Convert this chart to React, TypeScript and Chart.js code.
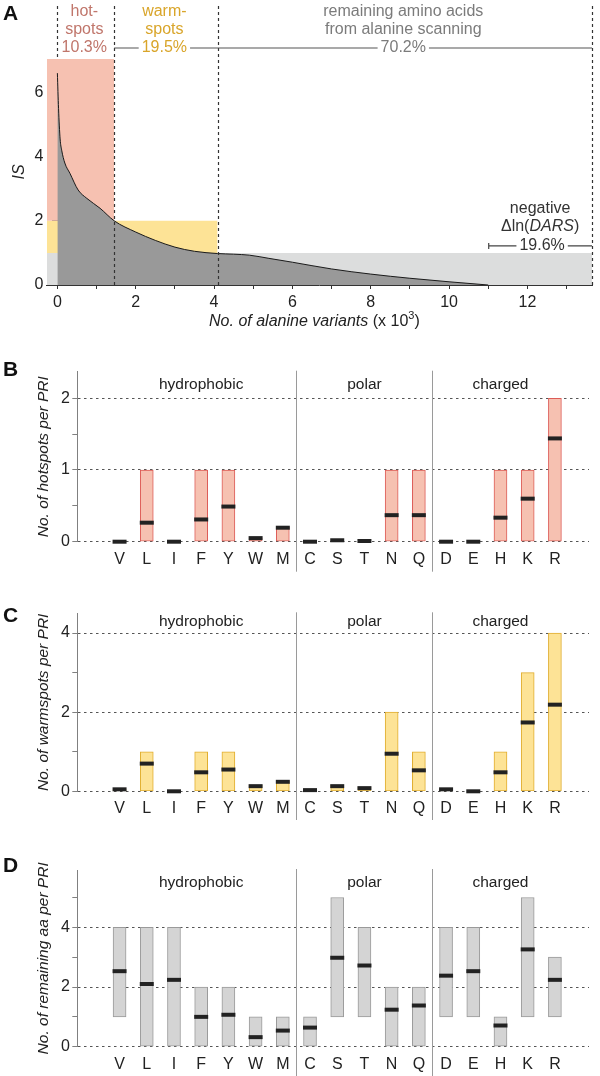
import React, { useEffect, useRef } from 'react';
import { Chart, registerables } from 'chart.js';

Chart.register(...registerables);

const FONT = "'Liberation Sans', Arial, Helvetica, sans-serif";
Chart.defaults.font.family = FONT;
Chart.defaults.color = '#222';

// ---------- Panel A data ----------
const curveX = [0, 0.03, 0.07, 0.11, 0.19, 0.32, 0.53, 0.75, 1.09, 1.45, 2.0, 2.5, 3.0, 3.5, 4.09, 4.5, 4.9, 5.4, 6.0, 7.0, 8.0, 9.0, 10.0, 11.0];
const curveIS = [6.6, 5.5, 4.55, 4.2, 3.8, 3.48, 2.96, 2.7, 2.39, 2.0, 1.65, 1.39, 1.18, 1.05, 0.98, 0.96, 0.93, 0.83, 0.71, 0.5, 0.34, 0.21, 0.1, 0.0];
const xMinA = -0.27;
const xMaxA = 13.65;
const yMaxA = 7.04;
const thresholdsX = [0, 1.45, 4.09, 13.65];
const bandEnds = [1.45, 4.09, 13.65];
const bandLows = [2, 1, 0];
const bandHighs = [7.04, 2, 1];
const bandColors = ['#f6c1b1', '#fde396', '#dcdddd'];
const classLabels = [['hot-', 'spots'], ['warm-', 'spots'], ['remaining amino acids', 'from alanine scanning']];
const classPercents = ['10.3%', '19.5%', '70.2%'];
const classColors = ['#c0766b', '#d9a52a', '#7b7b7b'];
const negStart = 11.0;
const negPercent = '19.6%';
const xTicksA = [0, 1, 2, 3, 4, 5, 6, 7, 8, 9, 10, 11, 12, 13];
const xLabelsA = [0, 2, 4, 6, 8, 10, 12];
const yTicksA = [0, 1, 2, 3, 4, 5, 6];
const yLabelsA = [0, 2, 4, 6];

// ---------- Panels B-D data ----------
const categories = ['V', 'L', 'I', 'F', 'Y', 'W', 'M', 'C', 'S', 'T', 'N', 'Q', 'D', 'E', 'H', 'K', 'R'];
const groupNames = ['hydrophobic', 'polar', 'charged'];
const groupCenters = [4, 10, 15];
const groupSeparators = [7.5, 12.5];

const hotLow = [0, 0, 0, 0, 0, 0, 0, 0, 0, 0, 0, 0, 0, 0, 0, 0, 0];
const hotHigh = [0, 1, 0, 1, 1, 0.05, 0.2, 0, 0, 0, 1, 1, 0, 0, 1, 1, 2];
const hotMean = [0, 0.265, 0, 0.31, 0.49, 0.05, 0.195, 0, 0.02, 0.01, 0.37, 0.37, 0, 0, 0.335, 0.6, 1.44];
const hotTicks = [0, 0.5, 1, 1.5, 2];
const hotLabels = [0, 1, 2];

const warmLow = [0, 0, 0, 0, 0, 0, 0, 0, 0, 0, 0, 0, 0, 0, 0, 0, 0];
const warmHigh = [0.05, 1, 0, 1, 1, 0.15, 0.25, 0.03, 0.15, 0.1, 2, 1, 0.05, 0, 1, 3, 4];
const warmMean = [0.05, 0.7, 0, 0.48, 0.55, 0.13, 0.24, 0.03, 0.13, 0.08, 0.95, 0.53, 0.05, 0, 0.48, 1.74, 2.19];
const warmTicks = [0, 1, 2, 3, 4];
const warmLabels = [0, 2, 4];

const remLow = [1, 0, 0, 0, 0, 0, 0, 0, 1, 1, 0, 0, 1, 1, 0, 1, 1];
const remHigh = [4, 4, 4, 2, 2, 1, 1, 1, 5, 4, 2, 2, 4, 4, 1, 5, 3];
const remMean = [2.53, 2.1, 2.24, 1.0, 1.07, 0.32, 0.54, 0.64, 2.98, 2.72, 1.24, 1.38, 2.38, 2.53, 0.71, 3.26, 2.24];
const remTicks = [0, 1, 2, 3, 4, 5];
const remLabels = [0, 2, 4];

type Run = { text: string; font: string; dy?: number };

function drawRuns(ctx: CanvasRenderingContext2D, runs: Run[], cx: number, y: number, color: string) {
  let total = 0;
  const widths = runs.map((r) => {
    ctx.font = r.font;
    const w = ctx.measureText(r.text).width;
    total += w;
    return w;
  });
  let x = cx - total / 2;
  ctx.fillStyle = color;
  ctx.textAlign = 'left';
  ctx.textBaseline = 'middle';
  runs.forEach((r, i) => {
    ctx.font = r.font;
    ctx.fillText(r.text, x, y + (r.dy || 0));
    x += widths[i];
  });
}

const panelAPlugin = {
  id: 'panelADecor',
  afterDraw(chart: any) {
    const { ctx, chartArea: ca, scales } = chart;
    const x = scales.x;
    const y = scales.y;
    const px = (v: number) => x.getPixelForValue(v);
    const py = (v: number) => y.getPixelForValue(v);
    ctx.save();
    // dashed class boundaries
    ctx.setLineDash([3, 3]);
    ctx.strokeStyle = '#333';
    ctx.lineWidth = 1.2;
    thresholdsX.forEach((v, i) => {
      const X = Math.round(px(v)) + 0.5;
      ctx.beginPath();
      ctx.moveTo(X, 6);
      ctx.lineTo(X, i === 0 ? ca.top : ca.bottom);
      ctx.stroke();
    });
    ctx.setLineDash([]);
    // horizontal bracket line
    const lineY = 48;
    ctx.strokeStyle = '#555';
    ctx.lineWidth = 1.2;
    ctx.beginPath();
    ctx.moveTo(px(thresholdsX[1]), lineY);
    ctx.lineTo(px(thresholdsX[3]), lineY);
    ctx.stroke();
    // class labels
    ctx.font = `16px ${FONT}`;
    ctx.textAlign = 'center';
    ctx.textBaseline = 'middle';
    for (let i = 0; i < 3; i++) {
      const cx = (px(thresholdsX[i]) + px(thresholdsX[i + 1])) / 2 - 1.5;
      ctx.fillStyle = classColors[i];
      ctx.fillText(classLabels[i][0], cx, 12);
      ctx.fillText(classLabels[i][1], cx, 29.5);
      const w = ctx.measureText(classPercents[i]).width;
      if (i > 0) {
        ctx.fillStyle = '#fff';
        ctx.fillRect(cx - w / 2 - 3, lineY - 7, w + 6, 14);
      }
      ctx.fillStyle = classColors[i];
      ctx.fillText(classPercents[i], cx, lineY);
    }
    // negative ΔlnDARS annotation
    const base = py(1);
    const nx0 = px(negStart);
    const nx1 = px(thresholdsX[3]);
    const ncx = (nx0 + nx1) / 2 + 2;
    const nLineY = base - 7;
    ctx.strokeStyle = '#444';
    ctx.lineWidth = 1.2;
    ctx.beginPath();
    ctx.moveTo(nx0, nLineY);
    ctx.lineTo(nx1, nLineY);
    ctx.moveTo(nx0 + 0.5, nLineY - 3);
    ctx.lineTo(nx0 + 0.5, nLineY + 3);
    ctx.stroke();
    ctx.font = `16px ${FONT}`;
    const nw = ctx.measureText(negPercent).width;
    ctx.fillStyle = '#fff';
    ctx.fillRect(ncx - nw / 2 - 3, nLineY - 6, nw + 6, 12);
    ctx.fillStyle = '#333';
    ctx.textAlign = 'center';
    ctx.fillText(negPercent, ncx, nLineY);
    ctx.fillText('negative', ncx - 2, base - 44);
    drawRuns(ctx, [
      { text: 'Δln(', font: `16px ${FONT}` },
      { text: 'DARS', font: `italic 16px ${FONT}` },
      { text: ')', font: `16px ${FONT}` },
    ], ncx - 2, base - 26.5, '#333');
    // x axis title
    drawRuns(ctx, [
      { text: 'No. of alanine variants', font: `italic 16px ${FONT}` },
      { text: ' (x 10', font: `16px ${FONT}` },
      { text: '3', font: `11px ${FONT}`, dy: -6 },
      { text: ')', font: `16px ${FONT}` },
    ], (ca.left + ca.right) / 2 - 5, ca.bottom + 37, '#222');
    // panel letter
    ctx.fillStyle = '#111';
    ctx.font = `bold 21px ${FONT}`;
    ctx.textAlign = 'left';
    ctx.textBaseline = 'middle';
    ctx.fillText('A', 3, 14);
    ctx.restore();
  },
};

function PanelA() {
  const ref = useRef<HTMLCanvasElement>(null);
  useEffect(() => {
    const canvas = ref.current;
    if (!canvas) return;
    const bandSets = bandEnds.map((end, i) => ({
      data: [{ x: xMinA, y: bandHighs[i] }, { x: end, y: bandHighs[i] }],
      fill: { value: bandLows[i] },
      backgroundColor: bandColors[i],
      borderWidth: 0,
      pointRadius: 0,
    }));
    const chart = new Chart(canvas, {
      type: 'line',
      data: {
        datasets: [
          {
            data: curveX.map((v, i) => ({ x: v, y: curveIS[i] })),
            fill: { value: 0 },
            backgroundColor: '#999999',
            borderColor: '#1a1a1a',
            borderWidth: 1,
            pointRadius: 0,
            cubicInterpolationMode: 'monotone',
          },
          ...bandSets,
        ],
      },
      options: {
        animation: false,
        responsive: false,
        events: [],
        layout: { padding: { top: 59, left: 0, right: 8, bottom: 0 } },
        plugins: { legend: { display: false }, tooltip: { enabled: false } },
        scales: {
          x: {
            type: 'linear',
            position: 'bottom',
            min: xMinA,
            max: xMaxA,
            afterBuildTicks: (s: any) => { s.ticks = xTicksA.map((v) => ({ value: v })); },
            afterFit: (s: any) => { s.height = 50; },
            ticks: {
              autoSkip: false,
              maxRotation: 0,
              padding: 4,
              color: '#222',
              font: { size: 16 },
              callback: (v: any) => (xLabelsA.includes(Number(v)) ? String(v) : ''),
            },
            grid: { drawOnChartArea: false, drawTicks: true, tickLength: 4, tickColor: '#333' },
            border: { display: true, color: '#333', width: 1 },
          },
          y: {
            type: 'linear',
            position: { x: 0 },
            min: 0,
            max: yMaxA,
            afterBuildTicks: (s: any) => { s.ticks = yTicksA.map((v) => ({ value: v })); },
            ticks: { display: false },
            grid: { drawOnChartArea: false, drawTicks: true, tickLength: 5, tickColor: '#333' },
            border: { display: true, color: '#333', width: 1 },
          },
          y2: {
            type: 'linear',
            position: 'left',
            min: 0,
            max: yMaxA,
            afterBuildTicks: (s: any) => { s.ticks = yLabelsA.map((v) => ({ value: v })); },
            afterFit: (s: any) => { s.width = 46.8; },
            ticks: { padding: 3.5, color: '#222', font: { size: 16 } },
            grid: { display: false, drawTicks: false },
            border: { display: false },
            title: {
              display: true,
              text: 'IS',
              color: '#222',
              font: { size: 16, style: 'italic' },
              padding: { top: 10, bottom: 0 },
            },
          },
        },
      },
      plugins: [panelAPlugin],
    } as any);
    return () => chart.destroy();
  }, []);
  return (
    <div style={{ position: 'absolute', left: 0, top: 0, width: 600, height: 335 }}>
      <canvas ref={ref} width={600} height={335} style={{ display: 'block' }} />
    </div>
  );
}

function makeBarPlugin(letter: string, letterY: number, groupY: number) {
  return {
    id: 'barPanelDecor',
    afterDraw(chart: any) {
      const { ctx, chartArea, scales } = chart;
      const x = scales.x;
      ctx.save();
      ctx.strokeStyle = '#9a9a9a';
      ctx.lineWidth = 1;
      groupSeparators.forEach((v) => {
        const X = Math.round(x.getPixelForValue(v)) + 0.5;
        ctx.beginPath();
        ctx.moveTo(X, chartArea.top - 1);
        ctx.lineTo(X, chartArea.bottom + 30);
        ctx.stroke();
      });
      ctx.fillStyle = '#222';
      ctx.font = `15.5px ${FONT}`;
      ctx.textAlign = 'center';
      ctx.textBaseline = 'middle';
      groupNames.forEach((g, i) => ctx.fillText(g, x.getPixelForValue(groupCenters[i]), groupY));
      ctx.fillStyle = '#111';
      ctx.font = `bold 21px ${FONT}`;
      ctx.textAlign = 'left';
      ctx.fillText(letter, 3, letterY);
      ctx.restore();
    },
  };
}

type BarPanelProps = {
  top: number;
  height: number;
  chartTop: number;
  chartBottom: number;
  yMax: number;
  ticks: number[];
  labels: number[];
  low: number[];
  high: number[];
  mean: number[];
  fill: string;
  stroke: string;
  title: string;
  letter: string;
  letterY: number;
  groupY: number;
};

function BarPanel(p: BarPanelProps) {
  const ref = useRef<HTMLCanvasElement>(null);
  useEffect(() => {
    const canvas = ref.current;
    if (!canvas) return;
    const markerData = categories.map((_, i) => ({ x: i + 1, y: p.mean[i] }));
    const barData = categories.map((_, i) => ({
      x: i + 1,
      y: p.high[i] > p.low[i] ? [p.low[i], p.high[i]] : null,
    }));
    const chart = new Chart(canvas, {
      type: 'bar',
      data: {
        datasets: [
          {
            type: 'scatter',
            data: markerData,
            pointStyle: 'line',
            pointRadius: 7,
            pointHoverRadius: 7,
            pointBorderColor: '#222',
            pointBorderWidth: 4,
            borderColor: '#222',
            borderWidth: 4,
            showLine: false,
            clip: false,
          },
          {
            type: 'bar',
            data: barData,
            backgroundColor: p.fill,
            borderColor: p.stroke,
            borderWidth: 1,
            borderSkipped: false,
            barThickness: 13,
          },
        ],
      },
      options: {
        animation: false,
        responsive: false,
        events: [],
        layout: { padding: { top: p.chartTop, left: 0, right: 0, bottom: 0 } },
        plugins: { legend: { display: false }, tooltip: { enabled: false } },
        scales: {
          x: {
            type: 'linear',
            position: 'bottom',
            min: 0,
            max: 17.7,
            afterBuildTicks: (s: any) => { s.ticks = categories.map((_, i) => ({ value: i + 1 })); },
            afterFit: (s: any) => { s.height = p.height - p.chartBottom; },
            ticks: {
              autoSkip: false,
              maxRotation: 0,
              padding: 8,
              color: '#222',
              font: { size: 16 },
              callback: (v: any) => categories[Number(v) - 1] ?? '',
            },
            grid: { display: false, drawTicks: false },
            border: { display: false },
          },
          y: {
            type: 'linear',
            position: 'left',
            min: 0,
            max: p.yMax,
            afterBuildTicks: (s: any) => { s.ticks = p.ticks.map((v) => ({ value: v })); },
            afterFit: (s: any) => { s.width = 77.3; },
            ticks: {
              padding: 2.5,
              color: '#222',
              font: { size: 16 },
              callback: (v: any) => (p.labels.includes(Number(v)) ? String(v) : ''),
            },
            grid: {
              drawTicks: true,
              tickLength: 5,
              tickColor: '#808080',
              tickWidth: 1,
              lineWidth: 1,
              color: (c: any) => (c.tick && p.labels.includes(c.tick.value) ? '#555' : 'rgba(0,0,0,0)'),
            },
            border: { display: true, color: '#808080', width: 1, dash: [2.5, 3.5] },
            title: {
              display: true,
              text: p.title,
              color: '#222',
              font: { size: 15.5, style: 'italic' },
              padding: { top: 34, bottom: 0 },
            },
          },
        },
      },
      plugins: [makeBarPlugin(p.letter, p.letterY, p.groupY)],
    } as any);
    return () => chart.destroy();
  }, []);
  return (
    <div style={{ position: 'absolute', left: 0, top: p.top, width: 600, height: p.height }}>
      <canvas ref={ref} width={600} height={p.height} style={{ display: 'block' }} />
    </div>
  );
}

export default function App() {
  return (
    <div style={{ position: 'absolute', left: 0, top: 0, width: 600, height: 1076, background: '#fff', overflow: 'hidden' }}>
      <PanelA />
      <BarPanel
        top={335} height={245} chartTop={36.7} chartBottom={206.7} yMax={2.37}
        ticks={hotTicks} labels={hotLabels} low={hotLow} high={hotHigh} mean={hotMean}
        fill="#f6c1b1" stroke="#dd5c57" title="No. of hotspots per PRI"
        letter="B" letterY={35} groupY={50}
      />
      <BarPanel
        top={580} height={240} chartTop={33.3} chartBottom={211.3} yMax={4.5}
        ticks={warmTicks} labels={warmLabels} low={warmLow} high={warmHigh} mean={warmMean}
        fill="#fde396" stroke="#e0ad2e" title="No. of warmspots per PRI"
        letter="C" letterY={36} groupY={41.7}
      />
      <BarPanel
        top={820} height={256} chartTop={50} chartBottom={226.7} yMax={5.92}
        ticks={remTicks} labels={remLabels} low={remLow} high={remHigh} mean={remMean}
        fill="#d4d4d4" stroke="#9a9a9a" title="No. of remaining aa per PRI"
        letter="D" letterY={46.7} groupY={62.7}
      />
    </div>
  );
}
